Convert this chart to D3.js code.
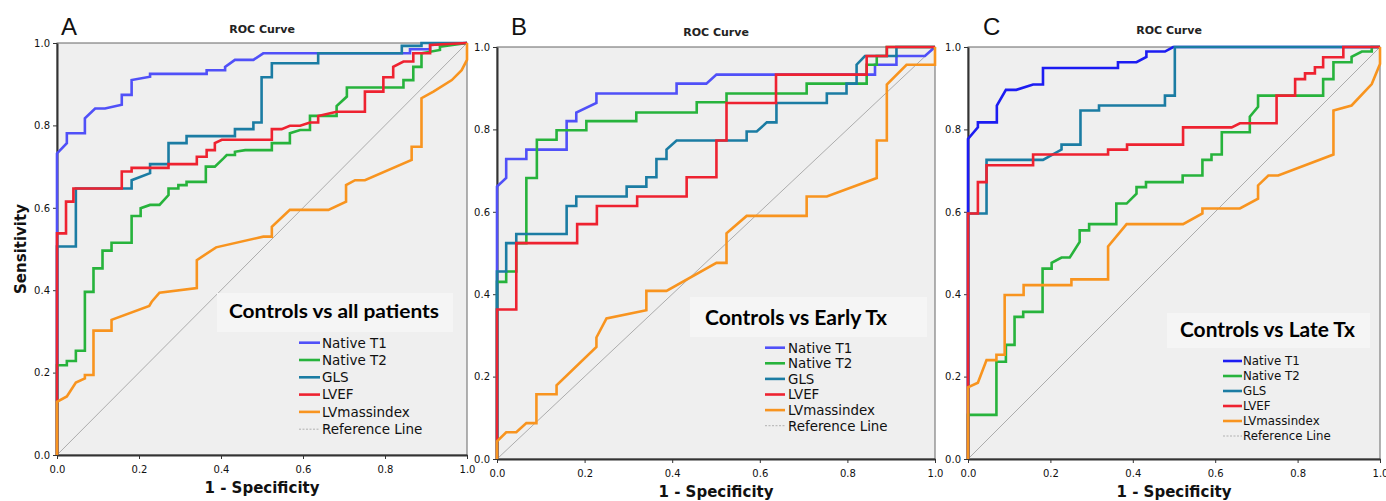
<!DOCTYPE html>
<html><head><meta charset="utf-8">
<script src="https://cdn.jsdelivr.net/npm/d3@7"></script>
<style>html,body{margin:0;padding:0;background:#fff;}svg{display:block;}</style>
</head><body>
<svg id="chart" width="1386" height="501"></svg>
<script>
// ---------- data ----------
const seriesNames = ["Native T1", "Native T2", "GLS", "LVEF", "LVmassindex"];
const refLabel = "Reference Line";
const panelLetters = ["A", "B", "C"];
const panelTitles = ["Controls vs all patients", "Controls vs Early Tx", "Controls vs Late Tx"];
const chartTitle = "ROC Curve";
const xAxisLabel = "1 - Specificity";
const yAxisLabel = "Sensitivity";
const tickValues = [0, 0.2, 0.4, 0.6, 0.8, 1.0];
const tickLabels = ["0.0", "0.2", "0.4", "0.6", "0.8", "1.0"];

// Panel A: controls vs all patients  [1-specificity, sensitivity]
const allT1 = [[0,0],[0,0.732],[0.024,0.757],[0.024,0.781],[0.068,0.781],[0.068,0.817],[0.093,0.841],[0.117,0.841],[0.158,0.850],[0.158,0.874],[0.182,0.874],[0.182,0.910],[0.227,0.918],[0.227,0.925],[0.365,0.925],[0.365,0.934],[0.410,0.934],[0.410,0.942],[0.434,0.959],[0.479,0.959],[0.503,0.975],[0.861,0.975],[0.861,0.985],[0.910,0.985],[0.910,0.995],[1,1]];
const allT2 = [[0,0],[0,0.218],[0.024,0.218],[0.024,0.228],[0.046,0.228],[0.046,0.253],[0.068,0.253],[0.068,0.396],[0.089,0.396],[0.089,0.453],[0.111,0.453],[0.111,0.496],[0.133,0.496],[0.133,0.515],[0.182,0.515],[0.182,0.580],[0.204,0.580],[0.204,0.599],[0.227,0.607],[0.250,0.607],[0.272,0.631],[0.272,0.647],[0.296,0.647],[0.296,0.655],[0.316,0.655],[0.316,0.663],[0.363,0.663],[0.363,0.700],[0.385,0.700],[0.406,0.720],[0.414,0.728],[0.434,0.728],[0.434,0.736],[0.459,0.740],[0.524,0.740],[0.524,0.757],[0.568,0.757],[0.568,0.781],[0.593,0.789],[0.617,0.789],[0.617,0.823],[0.682,0.823],[0.682,0.847],[0.707,0.870],[0.707,0.892],[0.845,0.892],[0.845,0.910],[0.869,0.910],[0.869,0.942],[0.889,0.942],[0.889,0.975],[0.934,0.983],[0.934,0.991],[1,1]];
const allGLS = [[0,0],[0,0.506],[0.046,0.506],[0.046,0.647],[0.182,0.647],[0.182,0.667],[0.227,0.684],[0.227,0.706],[0.272,0.706],[0.272,0.757],[0.316,0.757],[0.316,0.774],[0.434,0.774],[0.434,0.791],[0.479,0.791],[0.479,0.807],[0.499,0.807],[0.499,0.917],[0.524,0.917],[0.524,0.951],[0.637,0.951],[0.637,0.975],[0.841,0.975],[0.841,0.993],[0.889,0.993],[0.889,1],[1,1]];
const allLVEF = [[0,0],[0,0.538],[0.022,0.538],[0.022,0.615],[0.040,0.615],[0.040,0.647],[0.158,0.647],[0.158,0.688],[0.182,0.688],[0.182,0.697],[0.272,0.697],[0.272,0.706],[0.341,0.706],[0.341,0.724],[0.365,0.724],[0.365,0.740],[0.385,0.740],[0.385,0.757],[0.402,0.765],[0.524,0.765],[0.524,0.791],[0.548,0.791],[0.568,0.799],[0.593,0.799],[0.617,0.807],[0.637,0.807],[0.637,0.823],[0.682,0.833],[0.751,0.833],[0.751,0.882],[0.796,0.882],[0.796,0.917],[0.820,0.917],[0.820,0.942],[0.845,0.955],[0.869,0.955],[0.869,0.975],[0.910,0.975],[0.910,0.995],[1,1]];
const allMass = [[0,0],[0,0.129],[0.024,0.142],[0.046,0.176],[0.068,0.186],[0.068,0.194],[0.089,0.194],[0.089,0.302],[0.133,0.302],[0.133,0.328],[0.225,0.362],[0.231,0.372],[0.250,0.394],[0.341,0.405],[0.341,0.473],[0.388,0.504],[0.503,0.530],[0.524,0.530],[0.524,0.554],[0.568,0.595],[0.662,0.595],[0.705,0.615],[0.705,0.655],[0.727,0.667],[0.751,0.667],[0.865,0.716],[0.865,0.748],[0.889,0.748],[0.889,0.866],[0.918,0.882],[0.963,0.910],[0.987,0.934],[1,0.959],[1,1]];

// Panel B: controls vs early Tx
const earlyT1 = [[0,0],[0,0.661],[0.021,0.682],[0.021,0.728],[0.067,0.728],[0.067,0.751],[0.159,0.751],[0.159,0.820],[0.181,0.820],[0.181,0.841],[0.227,0.864],[0.227,0.887],[0.410,0.887],[0.410,0.911],[0.478,0.911],[0.501,0.933],[0.863,0.933],[0.863,0.957],[0.912,0.957],[0.912,0.978],[0.977,0.978],[1,1]];
const earlyT2 = [[0,0],[0,0.430],[0.021,0.430],[0.021,0.455],[0.044,0.455],[0.044,0.524],[0.067,0.524],[0.067,0.682],[0.091,0.682],[0.091,0.775],[0.136,0.775],[0.136,0.798],[0.204,0.798],[0.204,0.820],[0.318,0.820],[0.318,0.841],[0.456,0.841],[0.456,0.866],[0.524,0.866],[0.524,0.887],[0.707,0.887],[0.707,0.911],[0.844,0.911],[0.844,0.957],[0.867,0.957],[0.867,0.978],[0.890,0.978],[0.890,1],[1,1]];
const earlyGLS = [[0,0],[0,0.455],[0.021,0.455],[0.021,0.524],[0.044,0.524],[0.044,0.546],[0.159,0.546],[0.159,0.614],[0.181,0.614],[0.181,0.637],[0.296,0.637],[0.296,0.661],[0.341,0.661],[0.341,0.684],[0.364,0.684],[0.364,0.728],[0.387,0.728],[0.387,0.751],[0.410,0.773],[0.570,0.773],[0.570,0.795],[0.593,0.795],[0.616,0.817],[0.638,0.817],[0.638,0.864],[0.753,0.864],[0.753,0.887],[0.798,0.887],[0.798,0.911],[0.821,0.911],[0.821,0.957],[0.840,0.978],[0.912,0.978],[0.912,1],[1,1]];
const earlyLVEF = [[0,0],[0,0.363],[0.044,0.363],[0.044,0.524],[0.183,0.524],[0.183,0.570],[0.228,0.570],[0.228,0.614],[0.320,0.614],[0.320,0.637],[0.433,0.637],[0.433,0.684],[0.501,0.684],[0.501,0.773],[0.524,0.773],[0.524,0.864],[0.637,0.864],[0.637,0.933],[0.844,0.933],[0.844,0.978],[0.890,0.978],[0.890,1],[1,1]];
const earlyMass = [[0,0],[0,0.043],[0.021,0.065],[0.044,0.065],[0.067,0.087],[0.090,0.087],[0.090,0.157],[0.136,0.157],[0.136,0.179],[0.227,0.272],[0.227,0.295],[0.250,0.341],[0.341,0.361],[0.341,0.408],[0.387,0.408],[0.501,0.476],[0.524,0.476],[0.524,0.548],[0.570,0.590],[0.707,0.590],[0.707,0.637],[0.753,0.637],[0.867,0.682],[0.867,0.773],[0.890,0.773],[0.890,0.909],[0.935,0.957],[1,0.957],[1,1]];

// Panel C: controls vs late Tx
const lateT1 = [[0,0],[0,0.777],[0.024,0.805],[0.024,0.817],[0.070,0.817],[0.070,0.858],[0.092,0.896],[0.117,0.896],[0.158,0.909],[0.182,0.909],[0.182,0.949],[0.364,0.949],[0.364,0.963],[0.409,0.963],[0.433,0.976],[0.433,0.989],[0.478,0.989],[0.498,1],[1,1]];
const lateT2 = [[0,0],[0,0.107],[0.069,0.107],[0.069,0.236],[0.092,0.236],[0.092,0.277],[0.113,0.277],[0.113,0.345],[0.134,0.345],[0.134,0.357],[0.181,0.357],[0.181,0.462],[0.203,0.462],[0.203,0.476],[0.227,0.489],[0.247,0.489],[0.271,0.527],[0.271,0.555],[0.294,0.555],[0.294,0.570],[0.360,0.570],[0.360,0.620],[0.385,0.620],[0.409,0.644],[0.409,0.660],[0.432,0.660],[0.432,0.672],[0.521,0.672],[0.521,0.688],[0.569,0.688],[0.569,0.726],[0.591,0.726],[0.591,0.739],[0.616,0.739],[0.616,0.793],[0.684,0.793],[0.684,0.831],[0.704,0.855],[0.704,0.882],[0.862,0.882],[0.862,0.922],[0.887,0.922],[0.887,0.963],[0.931,0.963],[0.931,0.976],[0.956,0.989],[0.980,0.989],[0.980,1],[1,1]];
const lateGLS = [[0,0],[0,0.596],[0.045,0.596],[0.045,0.726],[0.182,0.726],[0.227,0.751],[0.227,0.763],[0.273,0.763],[0.273,0.846],[0.318,0.846],[0.318,0.858],[0.478,0.858],[0.478,0.882],[0.502,0.882],[0.502,1],[1,1]];
const lateLVEF = [[0,0],[0,0.596],[0.024,0.596],[0.024,0.672],[0.045,0.672],[0.045,0.713],[0.158,0.713],[0.158,0.739],[0.340,0.739],[0.340,0.751],[0.386,0.751],[0.386,0.763],[0.522,0.763],[0.522,0.805],[0.640,0.805],[0.660,0.815],[0.749,0.815],[0.749,0.882],[0.794,0.882],[0.794,0.922],[0.818,0.922],[0.818,0.936],[0.842,0.936],[0.842,0.951],[0.862,0.951],[0.862,0.975],[0.911,0.975],[0.911,1],[1,1]];
const lateMass = [[0,0],[0,0.174],[0.024,0.185],[0.045,0.240],[0.069,0.240],[0.069,0.253],[0.089,0.253],[0.089,0.398],[0.135,0.398],[0.135,0.422],[0.251,0.422],[0.251,0.436],[0.340,0.436],[0.340,0.516],[0.385,0.570],[0.522,0.570],[0.569,0.596],[0.569,0.608],[0.660,0.608],[0.704,0.632],[0.704,0.664],[0.729,0.688],[0.753,0.688],[0.887,0.739],[0.887,0.846],[0.931,0.858],[0.980,0.910],[1,0.959],[1,1]];

// ---------- styling / layout ----------
const seriesColors = ["#5050f8", "#27b33c", "#1b7ca3", "#ee2230", "#f8941f"];
const panelsData = [
  [allT1, allT2, allGLS, allLVEF, allMass],
  [earlyT1, earlyT2, earlyGLS, earlyLVEF, earlyMass],
  [lateT1, lateT2, lateGLS, lateLVEF, lateMass]
];
const layout = [
  {bg:0,   x0:57,  x1:467,  y0:43, y1:455, letterX:61,  letterY:35, titleX:262,  titleY:33, xlabY:493,
   box:[217,293,236,39], legTitleX:229, legTitleY:318, legTitleW:210, legTitleFs:19,
   swX:299, swW:21, txtX:322, rowY:342.7, rowDy:17.3, fs:13.5, blue:"#5050f8"},
  {bg:476, x0:497, x1:935,  y0:47, y1:459, letterX:511, letterY:35, titleX:716,  titleY:36, xlabY:497,
   box:[690,297,237,40], legTitleX:705, legTitleY:325, legTitleW:182, legTitleFs:20,
   swX:765, swW:20, txtX:788, rowY:347.7, rowDy:15.6, fs:13.4, blue:"#5050f8"},
  {bg:948, x0:968, x1:1380, y0:47, y1:459, letterX:983, letterY:35, titleX:1169, titleY:34, xlabY:497,
   box:[1167,313,203,35], legTitleX:1180, legTitleY:337, legTitleW:175, legTitleFs:20,
   swX:1223, swW:19, txtX:1243, rowY:361, rowDy:15, fs:11.8, blue:"#1c1cf2"}
];

const svg = d3.select("#chart");
svg.append("rect").attr("width",1386).attr("height",501).attr("fill","#fff");

const FONT = "'DejaVu Sans', sans-serif";

layout.forEach((L, pi) => {
  const g = svg.append("g");
  g.append("rect").attr("x", L.bg).attr("y", 0).attr("width", 1386 - L.bg).attr("height", 501).attr("fill", "#fff");

  const x = d3.scaleLinear().domain([0,1]).range([L.x0, L.x1]);
  const y = d3.scaleLinear().domain([0,1]).range([L.y1, L.y0]);

  // plot background
  g.append("rect").attr("x", L.x0).attr("y", L.y0).attr("width", L.x1 - L.x0).attr("height", L.y1 - L.y0)
    .attr("fill", "#efefef").attr("stroke", "#666").attr("stroke-width", 1);

  // axes
  const ax = d3.axisBottom(x).tickValues(tickValues).tickFormat((d,i) => tickLabels[i]).tickSize(4).tickSizeOuter(0);
  const ay = d3.axisLeft(y).tickValues(tickValues).tickFormat((d,i) => tickLabels[i]).tickSize(4).tickSizeOuter(0);
  const gx = g.append("g").attr("transform", `translate(0,${L.y1})`).call(ax);
  const gy = g.append("g").attr("transform", `translate(${L.x0},0)`).call(ay);
  [gx, gy].forEach(a => {
    a.select(".domain").attr("stroke", "#333").attr("stroke-width", 2);
    a.selectAll(".tick line").attr("stroke", "#333").attr("stroke-width", 1);
    a.selectAll(".tick text").attr("font-family", FONT).attr("font-size", 10).attr("fill", "#111");
  });
  gx.selectAll(".tick text").attr("dy", "1.05em");

  // reference line
  g.append("line").attr("x1", x(0)).attr("y1", y(0)).attr("x2", x(1)).attr("y2", y(1))
    .attr("stroke", "#9a9a9a").attr("stroke-width", 0.8);

  // curves
  const line = d3.line().x(d => x(d[0])).y(d => y(d[1]));
  panelsData[pi].forEach((pts, si) => {
    g.append("path").datum(pts).attr("d", line).attr("fill", "none")
      .attr("stroke", si === 0 ? L.blue : seriesColors[si]).attr("stroke-width", 2.6)
      .attr("stroke-linejoin", "miter");
  });

  // panel letter & title
  g.append("text").attr("x", L.letterX).attr("y", L.letterY).text(panelLetters[pi])
    .attr("font-family", "'Liberation Sans', Arial, sans-serif").attr("font-size", 24).attr("fill", "#111");
  g.append("text").attr("x", L.titleX).attr("y", L.titleY).attr("text-anchor", "middle").text(chartTitle)
    .attr("font-family", FONT).attr("font-weight", "bold").attr("font-size", 11).attr("fill", "#222");

  // x label
  g.append("text").attr("x", (L.x0 + L.x1) / 2).attr("y", L.xlabY).attr("text-anchor", "middle").text(xAxisLabel)
    .attr("font-family", FONT).attr("font-weight", "bold").attr("font-size", 15).attr("fill", "#111");

  // legend
  g.append("rect").attr("x", L.box[0]).attr("y", L.box[1]).attr("width", L.box[2]).attr("height", L.box[3])
    .attr("fill", "#f5f5f5");
  g.append("text").attr("x", L.legTitleX).attr("y", L.legTitleY).text(panelTitles[pi])
    .attr("font-family", "Lato, 'Open Sans', sans-serif").attr("font-weight", "bold")
    .attr("font-size", L.legTitleFs).attr("fill", "#000")
    .attr("textLength", L.legTitleW).attr("lengthAdjust", "spacingAndGlyphs");
  const items = seriesNames.concat([refLabel]);
  items.forEach((name, i) => {
    const cy = L.rowY + i * L.rowDy;
    const isRef = i === items.length - 1;
    g.append("line").attr("x1", L.swX).attr("x2", L.swX + L.swW).attr("y1", cy).attr("y2", cy)
      .attr("stroke", isRef ? "#aaa" : (i === 0 ? L.blue : seriesColors[i]))
      .attr("stroke-width", isRef ? 0.9 : 2.6)
      .attr("stroke-dasharray", isRef ? "2,1.5" : null);
    g.append("text").attr("x", L.txtX).attr("y", cy + 0.36 * L.fs).text(name)
      .attr("font-family", FONT).attr("font-size", L.fs).attr("fill", "#111");
  });
});

// y axis label (panel A only)
svg.append("text").attr("transform", "translate(26,249) rotate(-90)").attr("text-anchor", "middle")
  .text(yAxisLabel).attr("font-family", FONT).attr("font-weight", "bold").attr("font-size", 15).attr("fill", "#111");
</script>
</body></html>
